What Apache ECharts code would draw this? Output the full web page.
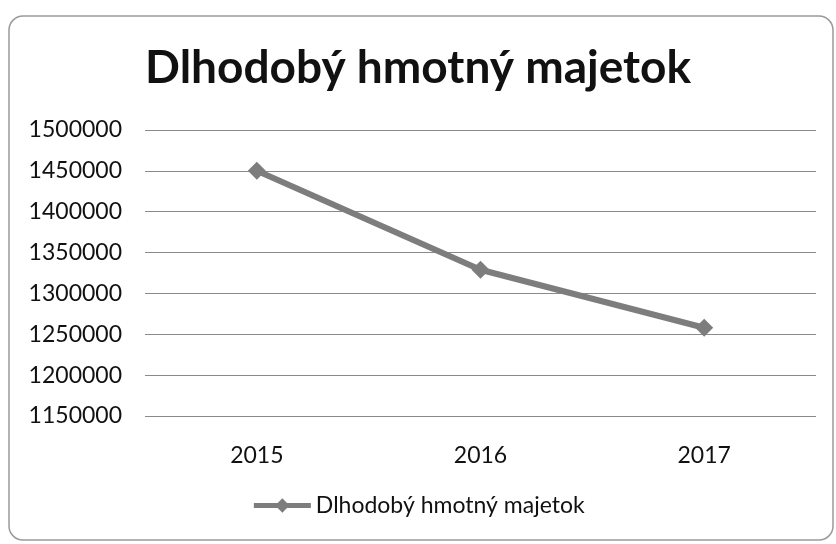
<!DOCTYPE html>
<html>
<head>
<meta charset="utf-8">
<script src="https://cdn.jsdelivr.net/npm/echarts@6/dist/echarts.min.js"></script>
<style>
  html, body { margin: 0; padding: 0; background: #fff; }
  #chart { width: 836px; height: 544px; }
</style>
</head>
<body>
<div id="chart"></div>
<script>
// roky a hodnoty
var years = ['2015', '2016', '2017'];
var values = [1450000, 1329000, 1258000];
var seriesName = 'Dlhodobý hmotný majetok';
var titleText = 'Dlhodobý hmotný majetok';

var myChart = echarts.init(document.getElementById('chart'));
var font = 'Lato, "Open Sans", sans-serif';

var option = {
  backgroundColor: '#fff',
  animation: false,
  title: {
    text: titleText,
    left: 'center',
    top: 40,
    textStyle: { fontFamily: font, fontSize: 46, fontWeight: 'bold', color: '#111' }
  },
  graphic: [{
    type: 'rect',
    shape: { x: 9, y: 16, width: 824, height: 524, r: 14 },
    style: { fill: 'none', stroke: '#9a9a9a', lineWidth: 1.5 },
    z: -1
  }],
  legend: {
    bottom: 22,
    left: 'center',
    itemWidth: 57,
    itemHeight: 18,
    itemGap: 4,
    lineStyle: { width: 5 },
    textStyle: { fontFamily: font, fontSize: 23, color: '#111' },
    data: [seriesName]
  },
  grid: {
    left: 145,
    right: 20,
    top: 130,
    bottom: 128
  },
  xAxis: {
    type: 'category',
    data: years,
    axisLine: { show: false },
    axisTick: { show: false },
    axisLabel: { fontFamily: font, fontSize: 23, color: '#111', margin: 28 }
  },
  yAxis: {
    type: 'value',
    min: 1150000,
    max: 1500000,
    interval: 50000,
    axisLine: { show: false },
    axisTick: { show: false },
    axisLabel: {
      fontFamily: font, fontSize: 23, color: '#111', margin: 23,
      formatter: function (v) { return String(v); }
    },
    splitLine: { lineStyle: { color: '#8a8a8a', width: 1.2 } }
  },
  series: [{
    name: seriesName,
    type: 'line',
    data: values,
    symbol: 'diamond',
    symbolSize: 18,
    lineStyle: { color: '#7d7d7d', width: 6 },
    itemStyle: { color: '#7d7d7d' }
  }]
};
myChart.setOption(option);
</script>
</body>
</html>
